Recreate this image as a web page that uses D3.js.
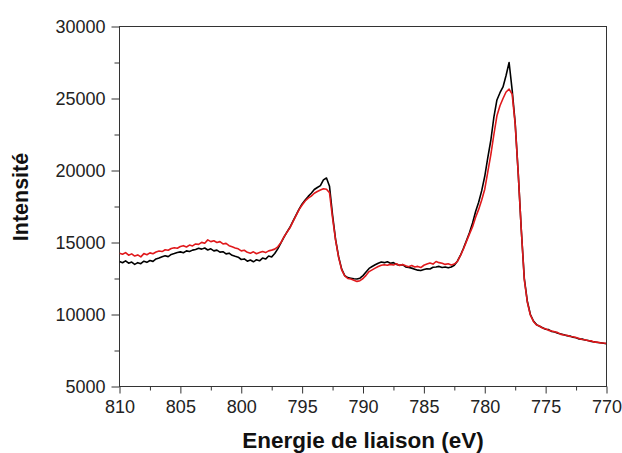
<!DOCTYPE html>
<html>
<head>
<meta charset="utf-8">
<script src="https://cdn.jsdelivr.net/npm/d3@7"></script>
<style>
  body { margin: 0; background: #fff; }
  svg { display: block; }
  text { font-family: Arial, "Liberation Sans", sans-serif; }
</style>
</head>
<body>
<svg id="chart" width="622" height="453"></svg>
<script>
// Binding energy axis (eV), 810 -> 770 in 0.25 eV steps
const energies = d3.range(0, 161).map(i => 810 - i * 0.25);

// Black spectrum
const seriesBlack = [
  13680,13590,13720,13560,13640,13480,13600,13530,13700,13620,
  13750,13690,13860,13920,14010,14080,14020,14170,14230,14300,
  14350,14290,14420,14380,14470,14520,14600,14540,14620,14480,
  14560,14420,14470,14330,14360,14210,14260,14110,14040,13980,
  13820,13860,13700,13780,13660,13800,13730,13920,13850,14060,
  14000,14240,14560,14950,15350,15720,16060,16480,16900,17320,
  17680,17950,18200,18420,18680,18820,18950,19350,19480,18900,
  16900,15200,14000,13150,12700,12560,12520,12480,12470,12520,
  12700,12950,13200,13330,13450,13560,13640,13600,13660,13560,
  13600,13480,13420,13460,13300,13260,13220,13150,13080,13050,
  13120,13180,13160,13280,13300,13340,13260,13300,13240,13300,
  13420,13700,14100,14600,15140,15700,16350,17150,17800,18600,
  19600,20900,22100,23700,24900,25400,25800,26600,27500,25600,
  23300,19800,15900,12500,10900,10000,9550,9300,9180,9080,
  8980,8950,8820,8780,8700,8650,8600,8530,8500,8420,
  8380,8300,8290,8230,8200,8120,8100,8060,8040,8000,
  7980
];

// Red spectrum
const seriesRed = [
  14250,14180,14300,14120,14210,14060,14140,14000,14230,14150,
  14280,14220,14340,14410,14370,14500,14460,14580,14640,14600,
  14720,14780,14690,14820,14760,14900,14870,15010,14950,15180,
  15060,15120,15000,15060,14900,14940,14780,14700,14620,14560,
  14420,14460,14320,14260,14350,14220,14300,14380,14300,14420,
  14470,14540,14700,14980,15380,15700,16020,16450,16860,17280,
  17600,17880,18080,18220,18420,18540,18640,18730,18700,18450,
  16700,15150,13950,13100,12680,12500,12460,12380,12300,12350,
  12500,12720,12980,13100,13220,13330,13420,13460,13420,13480,
  13440,13520,13400,13470,13380,13320,13400,13300,13340,13260,
  13420,13500,13580,13500,13680,13600,13560,13480,13520,13440,
  13500,13680,14080,14550,15080,15600,16100,16750,17300,17950,
  18700,19900,21100,22500,23800,24500,25000,25450,25650,25300,
  23200,19800,15900,12400,10850,9950,9520,9270,9200,9050,
  9010,8900,8860,8800,8740,8620,8580,8560,8470,8450,
  8400,8340,8260,8250,8180,8170,8080,8090,8030,8020,
  7990
];

const xTicks = [810, 805, 800, 795, 790, 785, 780, 775, 770];
const xMinorTicks = [807.5, 802.5, 797.5, 792.5, 787.5, 782.5, 777.5, 772.5];
const yTicks = [5000, 10000, 15000, 20000, 25000, 30000];
const yMinorTicks = [7500, 12500, 17500, 22500, 27500];
const xTitle = "Energie de liaison (eV)";
const yTitle = "Intensité";

const svg = d3.select("#chart");
const L = 119.5, R = 606.5, T = 26.5, B = 386.5;

const x = d3.scaleLinear().domain([810, 770]).range([L, R]);
const y = d3.scaleLinear().domain([5000, 30000]).range([B, T]);

const axisColor = "#333";
const labelColor = "#222";

// minor ticks
svg.append("g").attr("transform", `translate(0,${B})`)
  .call(d3.axisBottom(x).tickValues(xMinorTicks).tickSize(4).tickFormat(""))
  .call(g => g.select(".domain").remove())
  .call(g => g.selectAll("line").attr("stroke", axisColor));
svg.append("g").attr("transform", `translate(${L},0)`)
  .call(d3.axisLeft(y).tickValues(yMinorTicks).tickSize(5).tickFormat(""))
  .call(g => g.select(".domain").remove())
  .call(g => g.selectAll("line").attr("stroke", axisColor));

// major ticks
const gx = svg.append("g").attr("transform", `translate(0,${B})`)
  .call(d3.axisBottom(x).tickValues(xTicks).tickSize(7).tickPadding(7).tickFormat(d3.format("d")));
gx.select(".domain").remove();
gx.selectAll("line").attr("stroke", axisColor);
gx.selectAll("text").attr("font-size", 18).attr("fill", labelColor)
  .attr("font-family", "Arial, 'Liberation Sans', sans-serif");

const gy = svg.append("g").attr("transform", `translate(${L},0)`)
  .call(d3.axisLeft(y).tickValues(yTicks).tickSize(8).tickPadding(6).tickFormat(d3.format("d")));
gy.select(".domain").remove();
gy.selectAll("line").attr("stroke", axisColor);
gy.selectAll("text").attr("font-size", 18).attr("fill", labelColor)
  .attr("font-family", "Arial, 'Liberation Sans', sans-serif");

// frame
svg.append("rect")
  .attr("x", L).attr("y", T).attr("width", R - L).attr("height", B - T)
  .attr("fill", "none").attr("stroke", axisColor).attr("stroke-width", 1);

// lines
const line = d3.line().x(d => x(d[0])).y(d => y(d[1]));
svg.append("clipPath").attr("id", "clip")
  .append("rect").attr("x", L).attr("y", T).attr("width", R - L).attr("height", B - T);

svg.append("path")
  .datum(energies.map((e, i) => [e, seriesBlack[i]]))
  .attr("d", line).attr("fill", "none")
  .attr("stroke", "#000").attr("stroke-width", 1.6)
  .attr("stroke-linejoin", "round")
  .attr("clip-path", "url(#clip)");

svg.append("path")
  .datum(energies.map((e, i) => [e, seriesRed[i]]))
  .attr("d", line).attr("fill", "none")
  .attr("stroke", "#e0191c").attr("stroke-width", 1.6)
  .attr("stroke-linejoin", "round")
  .attr("clip-path", "url(#clip)");

// titles
svg.append("text")
  .attr("x", (L + R) / 2).attr("y", 448)
  .attr("text-anchor", "middle")
  .attr("font-size", 22.5).attr("font-weight", "bold").attr("fill", "#111")
  .text(xTitle);

svg.append("text")
  .attr("transform", `translate(28,197) rotate(-90)`)
  .attr("text-anchor", "middle")
  .attr("font-size", 21.5).attr("font-weight", "bold").attr("fill", "#111")
  .text(yTitle);
</script>
</body>
</html>
